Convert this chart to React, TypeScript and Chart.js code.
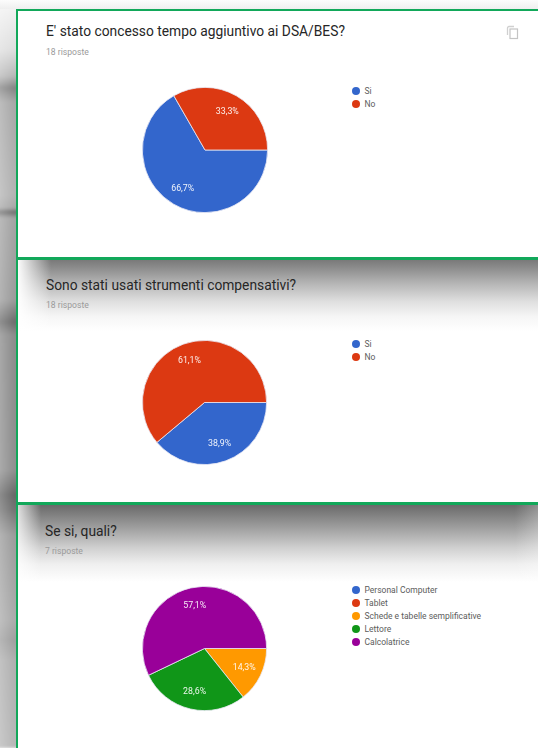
import React, { useEffect, useRef } from "react";
import { Chart, registerables } from "chart.js";

Chart.register(...registerables);

const titles = ["E' stato concesso tempo aggiuntivo ai DSA/BES?", "Sono stati usati strumenti compensativi?", "Se si, quali?"];
const answerCounts = ["18 risposte", "18 risposte", "7 risposte"];

const yesNoLabels = ["Si", "No"];
const q1Values = [66.7, 33.3];
const q2Values = [38.9, 61.1];

const toolLabels = ["Personal Computer", "Tablet", "Schede e tabelle semplificative", "Lettore", "Calcolatrice"];
const q3Values = [0, 0, 14.3, 28.6, 57.1];

const yesNoColors = ["#3366cc", "#dc3912"];
const toolColors = ["#3366cc", "#dc3912", "#ff9900", "#109618", "#990099"];

const pct = (v: number) => v.toFixed(1).replace(".", ",") + "%";

const sliceLabels = {
  id: "sliceLabels",
  afterDatasetsDraw(chart: any) {
    const { ctx } = chart;
    const values = chart.data.datasets[0].data as number[];
    chart.getDatasetMeta(0).data.forEach((arc: any, i: number) => {
      if (!values[i]) return;
      const p = arc.getProps(["x", "y", "startAngle", "endAngle", "outerRadius"], true);
      const mid = (p.startAngle + p.endAngle) / 2;
      const r = p.outerRadius * 0.71;
      ctx.save();
      ctx.font = "8.8px Roboto";
      ctx.fillStyle = "rgba(255,255,255,0.92)";
      ctx.textAlign = "center";
      ctx.textBaseline = "middle";
      ctx.fillText(pct(values[i]), p.x + Math.cos(mid) * r, p.y + Math.sin(mid) * r);
      ctx.restore();
    });
  },
};

function Pie({ values, labels, colors, cx, cy, r }: any) {
  const ref = useRef<HTMLCanvasElement>(null);
  useEffect(() => {
    const chart = new Chart(ref.current!, {
      type: "pie",
      data: { labels, datasets: [{ data: values, backgroundColor: colors, borderColor: "#e8e8f4", borderWidth: 0.8 }] },
      options: {
        responsive: false,
        animation: false,
        rotation: 90,
        layout: { padding: 1 },
        plugins: { legend: { display: false }, tooltip: { enabled: false } },
      },
      plugins: [sliceLabels],
    });
    return () => chart.destroy();
  }, []);
  const size = 2 * r + 2;
  return (
    <canvas
      ref={ref}
      width={size}
      height={size}
      style={{ position: "absolute", left: cx - r - 1, top: cy - r - 1, width: size, height: size }}
    />
  );
}

function Legend({ labels, colors, x, y }: any) {
  return (
    <>
      {labels.map((l: string, i: number) => (
        <div key={l} style={{ position: "absolute", left: x - 4, top: y + i * 13 - 6, height: 12, display: "flex", alignItems: "center", whiteSpace: "nowrap" }}>
          <span style={{ width: 8, height: 8, borderRadius: "50%", background: colors[i], marginRight: 4.5, flex: "none" }} />
          <span style={{ font: "8.5px Roboto, sans-serif", color: "#5c5c5c" }}>{l}</span>
        </div>
      ))}
    </>
  );
}

function Head({ title, sub, x, y, subY }: any) {
  return (
    <>
      <div style={{ position: "absolute", left: x, top: y - 9, height: 18, font: "400 13.8px/18px Roboto, sans-serif", color: "#262626", whiteSpace: "nowrap" }}>{title}</div>
      <div style={{ position: "absolute", left: x, top: subY - 6, height: 12, font: "8.6px/12px Roboto, sans-serif", color: "#9a9a9a", whiteSpace: "nowrap" }}>{sub}</div>
    </>
  );
}

const box = (top: number, height: number, extra = {}) => ({ position: "absolute" as const, left: 16, top, width: 540, height, ...extra });

const shadePanel2 = "linear-gradient(to right,#fff 0,rgba(255,255,255,0) 34px),linear-gradient(to bottom,#777 0,#8a8a8a 8px,#b4b4b4 24px,#dedede 42px,#f6f6f6 58px,#fff 72px)";
const shadePanel3 = "linear-gradient(to right,rgba(255,255,255,0.8) 0,rgba(255,255,255,0) 24px,rgba(255,255,255,0) 498px,rgba(255,255,255,0.25) 521px),linear-gradient(to bottom,#666 0,#7a7a7a 8px,#a4a4a4 26px,#d0d0d0 44px,#efefef 60px,#fff 78px)";
const stripVertical = "linear-gradient(to bottom,#f6f6f6 0,#dedede 50px,#b8b8b8 76px,#848484 88px,#a8a8a8 102px,#b4b4b4 195px,#a8a8a8 208px,#6c6c6c 212px,#a4a4a4 218px,#9c9c9c 300px,#6c6c6c 322px,#8c8c8c 335px,#909090 470px,#686868 495px,#747474 510px,#9c9c9c 535px,#acacac 620px,#a0a0a0 640px,#b0b0b0 660px,#b8b8b8 748px)";

export default function App() {
  useEffect(() => {
    document.body.style.margin = "0";
    document.body.style.background = "#fff";
  }, []);
  return (
    <div style={{ position: "relative", width: 538, height: 748, overflow: "hidden", background: "#fff", filter: "blur(0.35px)" }}>
      {/* blurred page behind the panels */}
      <div style={{ position: "absolute", left: -4, top: 0, width: 24, height: 748, filter: "blur(1.5px)", background: `linear-gradient(to right,rgba(255,255,255,0.3),rgba(255,255,255,0) 18px),${stripVertical}` }} />
      <div style={{ position: "absolute", left: 0, top: 0, width: 538, height: 9, background: "linear-gradient(to bottom,#fcfcfc,#efefef)" }} />

      <div style={box(9, 250, { background: "#fff" })} />
      <div style={{ position: "absolute", left: 17, top: 259, width: 521, height: 245, background: shadePanel2 }} />
      <div style={{ position: "absolute", left: 17, top: 504, width: 521, height: 244, background: shadePanel3 }} />

      {/* green selection rectangles */}
      <div style={box(9, 250, { boxSizing: "border-box", border: "2px solid #12a85a" })} />
      <div style={box(258, 246, { boxSizing: "border-box", border: "2px solid #12a85a" })} />
      <div style={box(503, 260, { boxSizing: "border-box", border: "2px solid #12a85a" })} />

      <Head title={titles[0]} sub={answerCounts[0]} x={46} y={31} subY={52} />
      <Head title={titles[1]} sub={answerCounts[1]} x={46} y={285} subY={305} />
      <Head title={titles[2]} sub={answerCounts[2]} x={45} y={531} subY={551} />

      <Pie values={q1Values} labels={yesNoLabels} colors={yesNoColors} cx={204.5} cy={150} r={63} />
      <Pie values={q2Values} labels={yesNoLabels} colors={yesNoColors} cx={204.5} cy={402} r={62.5} />
      <Pie values={q3Values} labels={toolLabels} colors={toolColors} cx={204} cy={648} r={62.5} />

      <Legend labels={yesNoLabels} colors={yesNoColors} x={356} y={91} />
      <Legend labels={yesNoLabels} colors={yesNoColors} x={356} y={344} />
      <Legend labels={toolLabels} colors={toolColors} x={356} y={590} />

      {/* copy icon */}
      <svg style={{ position: "absolute", left: 506, top: 25 }} width={14} height={15} viewBox="0 0 14 15">
        <path d="M1.5 10V3a1.5 1.5 0 0 1 1.5-1.5h5" stroke="#d0d0d0" strokeWidth="1.3" fill="none" />
        <rect x="4" y="4" width="7.5" height="9.5" fill="none" stroke="#c4c4c4" strokeWidth="1.2" />
      </svg>
    </div>
  );
}
